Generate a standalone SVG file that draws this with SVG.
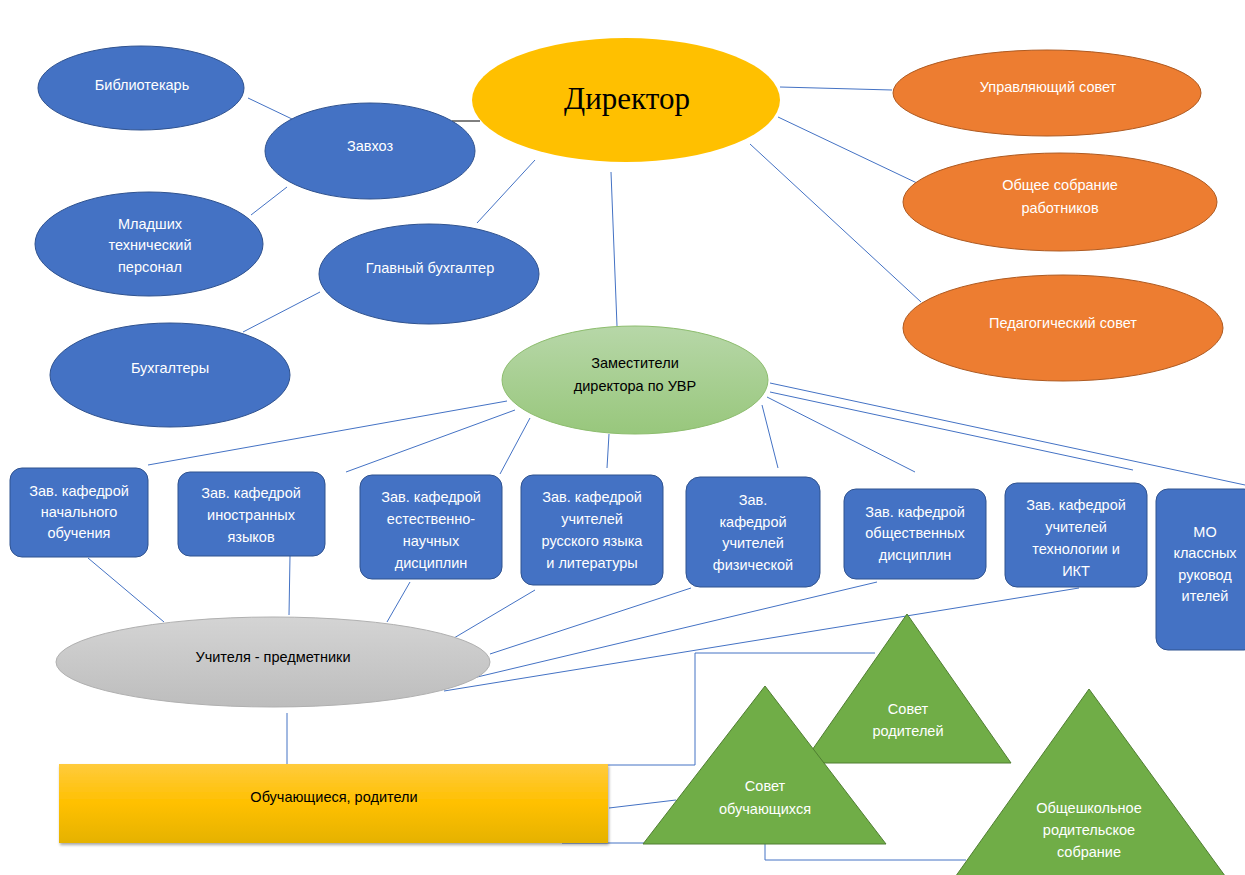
<svg xmlns="http://www.w3.org/2000/svg" width="1245" height="875" viewBox="0 0 1245 875">
<style>
.bl{fill:#4472C4;stroke:#2F528F;stroke-width:1}
.or{fill:#ED7D31;stroke:#AE5A21;stroke-width:1}
.tr{fill:#70AD47;stroke:#507E32;stroke-width:1}
.w{font-family:"Liberation Sans",Arial,sans-serif;font-size:14.5px;fill:#ffffff;text-anchor:middle}
.k{font-family:"Liberation Sans",Arial,sans-serif;font-size:14.5px;fill:#000000;text-anchor:middle}
.cn{stroke:#4472C4;stroke-width:1;fill:none}
</style>
<defs>
<linearGradient id="gG" x1="0" y1="0" x2="0" y2="1"><stop offset="0" stop-color="#B7D7A8"/><stop offset="1" stop-color="#98C77C"/></linearGradient>
<linearGradient id="gS" x1="0" y1="0" x2="0" y2="1"><stop offset="0" stop-color="#D4D4D4"/><stop offset="1" stop-color="#BDBDBD"/></linearGradient>
<linearGradient id="gY" x1="0" y1="0" x2="0" y2="1"><stop offset="0" stop-color="#FFCB3D"/><stop offset="0.5" stop-color="#FFC000"/><stop offset="1" stop-color="#E5B200"/></linearGradient>
<filter id="sh" x="-5%" y="-10%" width="110%" height="130%"><feDropShadow dx="1" dy="2" stdDeviation="1.5" flood-color="#000" flood-opacity="0.35"/></filter>
</defs>
<rect width="1245" height="875" fill="#ffffff"/>
<g id="connectors">
<line class="cn" x1="248" y1="98" x2="292" y2="119"/>
<line class="cn" x1="287" y1="187" x2="251" y2="215"/>
<line x1="452" y1="121" x2="480" y2="121" stroke="#000" stroke-width="1"/>
<line class="cn" x1="535" y1="160" x2="477" y2="223"/>
<line class="cn" x1="320" y1="292" x2="243" y2="332"/>
<line class="cn" x1="780" y1="87" x2="892" y2="90"/>
<line class="cn" x1="778" y1="117" x2="919" y2="184"/>
<line class="cn" x1="750" y1="144" x2="921" y2="302"/>
<line class="cn" x1="611" y1="172" x2="617" y2="326"/>
<line class="cn" x1="507" y1="401" x2="148" y2="465"/>
<line class="cn" x1="515" y1="410" x2="346" y2="472"/>
<line class="cn" x1="530" y1="418" x2="500" y2="474"/>
<line class="cn" x1="609" y1="434" x2="607" y2="468"/>
<line class="cn" x1="762" y1="405" x2="778" y2="468"/>
<line class="cn" x1="767" y1="397" x2="915" y2="472"/>
<line class="cn" x1="770" y1="392" x2="1133" y2="470"/>
<line class="cn" x1="770" y1="383" x2="1245" y2="485"/>
<line class="cn" x1="88" y1="558" x2="164" y2="622"/>
<line class="cn" x1="290" y1="556" x2="289" y2="615"/>
<line class="cn" x1="410" y1="582" x2="387" y2="622"/>
<line class="cn" x1="535" y1="590" x2="454" y2="638"/>
<line class="cn" x1="691" y1="588" x2="490" y2="654"/>
<line class="cn" x1="877" y1="582" x2="473" y2="678"/>
<line class="cn" x1="1079" y1="588" x2="444" y2="691"/>
<line class="cn" x1="287" y1="713" x2="287" y2="764"/>
<polyline class="cn" points="516,765 695,765 695,653 875,653"/>
<line class="cn" x1="609" y1="808" x2="676" y2="800"/>
<polyline class="cn" points="562,843 765,843 765,860 966,860"/>
</g>
<g id="n-director"><ellipse cx="626" cy="100" rx="154" ry="62" fill="#FFC000"/><text x="627" y="109" font-family="'Liberation Serif','Times New Roman',serif" font-size="31" text-anchor="middle" fill="#000">Директор</text></g>
<g id="n-lib"><ellipse class="bl" cx="141" cy="88" rx="103" ry="42"/><text class="w" x="142" y="90">Библиотекарь</text></g>
<g id="n-zavhoz"><ellipse class="bl" cx="370" cy="151" rx="105" ry="48"/><text class="w" x="370" y="151">Завхоз</text></g>
<g id="n-mladsh"><ellipse class="bl" cx="149" cy="244" rx="114" ry="52"/><text class="w" x="150" y="229">Младших</text><text class="w" x="150" y="250">технический</text><text class="w" x="150" y="272">персонал</text></g>
<g id="n-glavbuh"><ellipse class="bl" cx="429" cy="274" rx="110" ry="50"/><text class="w" x="430" y="273">Главный бухгалтер</text></g>
<g id="n-buh"><ellipse class="bl" cx="170" cy="375" rx="120" ry="52"/><text class="w" x="170" y="373">Бухгалтеры</text></g>
<g id="n-upr"><ellipse class="or" cx="1047" cy="93" rx="154" ry="43"/><text class="w" x="1048" y="92">Управляющий совет</text></g>
<g id="n-obsch"><ellipse class="or" cx="1060" cy="202" rx="157" ry="49"/><text class="w" x="1060" y="190">Общее собрание</text><text class="w" x="1060" y="213">работников</text></g>
<g id="n-ped"><ellipse class="or" cx="1063" cy="328" rx="160" ry="53"/><text class="w" x="1063" y="328">Педагогический совет</text></g>
<g id="n-zam"><ellipse cx="635" cy="380" rx="133" ry="54" fill="url(#gG)" stroke="#8DBD6E" stroke-width="1"/><text class="k" x="635" y="368">Заместители</text><text class="k" x="635" y="391">директора по УВР</text></g>
<g id="n-r1"><rect class="bl" x="10" y="468" width="138" height="89" rx="12"/><text class="w" x="79" y="496">Зав. кафедрой</text><text class="w" x="79" y="517">начального</text><text class="w" x="79" y="538">обучения</text></g>
<g id="n-r2"><rect class="bl" x="178" y="472" width="147" height="84" rx="12"/><text class="w" x="251" y="498">Зав. кафедрой</text><text class="w" x="251" y="520">иностранных</text><text class="w" x="251" y="542">языков</text></g>
<g id="n-r3"><rect class="bl" x="360" y="475" width="142" height="104" rx="12"/><text class="w" x="431" y="502">Зав. кафедрой</text><text class="w" x="431" y="524">естественно-</text><text class="w" x="431" y="546">научных</text><text class="w" x="431" y="568">дисциплин</text></g>
<g id="n-r4"><rect class="bl" x="521" y="475" width="142" height="110" rx="12"/><text class="w" x="592" y="502">Зав. кафедрой</text><text class="w" x="592" y="524">учителей</text><text class="w" x="592" y="546">русского языка</text><text class="w" x="592" y="568">и литературы</text></g>
<g id="n-r5"><rect class="bl" x="686" y="477" width="134" height="110" rx="14"/><text class="w" x="753" y="505">Зав.</text><text class="w" x="753" y="527">кафедрой</text><text class="w" x="753" y="548">учителей</text><text class="w" x="753" y="570">физической</text></g>
<g id="n-r6"><rect class="bl" x="844" y="489" width="142" height="90" rx="12"/><text class="w" x="915" y="517">Зав. кафедрой</text><text class="w" x="915" y="538">общественных</text><text class="w" x="915" y="560">дисциплин</text></g>
<g id="n-r7"><rect class="bl" x="1005" y="483" width="142" height="104" rx="12"/><text class="w" x="1076" y="510">Зав. кафедрой</text><text class="w" x="1076" y="532">учителей</text><text class="w" x="1076" y="554">технологии  и</text><text class="w" x="1076" y="576">ИКТ</text></g>
<g id="n-r8"><rect class="bl" x="1156" y="489" width="100" height="161" rx="12"/><text class="w" x="1205" y="537">МО</text><text class="w" x="1205" y="558">классных</text><text class="w" x="1205" y="580">руковод</text><text class="w" x="1205" y="601">ителей</text></g>
<g id="n-uch"><ellipse cx="273" cy="662" rx="217" ry="45" fill="url(#gS)" stroke="#B0B0B0" stroke-width="1"/><text class="k" x="273" y="662">Учителя - предметники</text></g>
<g id="n-obuch"><rect x="59" y="764" width="549" height="79" fill="url(#gY)" filter="url(#sh)"/><text class="k" x="334" y="802">Обучающиеся, родители</text></g>
<g id="n-sovrod"><polygon class="tr" points="907,614 1011,763 803,763"/><text class="w" x="908" y="714">Совет</text><text class="w" x="908" y="736">родителей</text></g>
<g id="n-sovob"><polygon class="tr" points="765,686 886,844 643,844"/><text class="w" x="765" y="791">Совет</text><text class="w" x="765" y="814">обучающихся</text></g>
<g id="n-obschrod"><polygon class="tr" points="1089,689 1228,880 953,880"/><text class="w" x="1089" y="813">Общешкольное</text><text class="w" x="1089" y="835">родительское</text><text class="w" x="1089" y="857">собрание</text></g>
</svg>
